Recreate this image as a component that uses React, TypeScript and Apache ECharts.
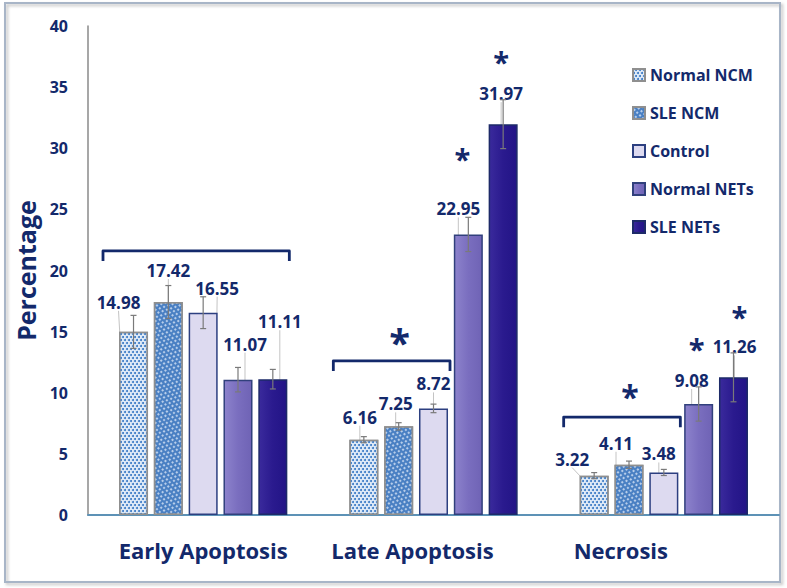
import React, { useEffect, useRef } from 'react';
import * as echarts from 'echarts';

const categories = ['Early Apoptosis', 'Late Apoptosis', 'Necrosis'];
const seriesNames = ['Normal NCM', 'SLE NCM', 'Control', 'Normal NETs', 'SLE NETs'];

const normalNcm = [14.98, 6.16, 3.22];
const sleNcm = [17.42, 7.25, 4.11];
const control = [16.55, 8.72, 3.48];
const normalNets = [11.07, 22.95, 9.08];
const sleNets = [11.11, 31.97, 11.26];

// standard error (half bar length)
const normalNcmErr = [1.35, 0.25, 0.25];
const sleNcmErr = [1.35, 0.3, 0.3];
const controlErr = [1.3, 0.35, 0.25];
const normalNetsErr = [1.0, 1.4, 1.4];
const sleNetsErr = [0.8, 2.0, 2.0];

const yTicks = { min: 0, max: 40, interval: 5 };

// brackets: [category, first series, last series, y value, star font size]
const brackets = [
  [0, 0, 4, 21.6, 0],
  [1, 0, 2, 12.6, 38],
  [2, 0, 2, 8.0, 32],
];
// significance stars over single bars: [category, series, y value]
const barStars = [
  [1, 3, 29.3],
  [1, 4, 37.3],
  [2, 3, 13.8],
  [2, 4, 16.4],
];
const starNudgeX = [-6, -2, -2, 6];

const NAVY = '#13296b';
const FONT = 'Open Sans';

// label nudges (dx, dy) per series / category
const labelNudge = [
  [[-15, -16], [-4, -9], [-22, -3]],
  [[0, -18], [-3, -9], [-13, -8]],
  [[14, -11], [0, -11], [-5, -5]],
  [[7, -22], [-10, -12], [-7, -10]],
  [[7, -44], [-2, -17], [1, -17]],
];

const BAR_FRAC = 0.126;
const GAP_FRAC = 0.2;

const App: React.FC = () => {
  const chartRef = useRef<HTMLDivElement | null>(null);

  useEffect(() => {
    document.body.style.margin = '0';
    if (!chartRef.current) return;
    const chart = echarts.init(chartRef.current, undefined, { renderer: 'svg' });

    const values = [normalNcm, sleNcm, control, normalNets, sleNets];
    const errs = [normalNcmErr, sleNcmErr, controlErr, normalNetsErr, sleNetsErr];

    const styles = [
      {
        color: '#dfeaf7',
        borderColor: '#8f8f8f',
        borderWidth: 1.5,
        decal: {
          symbol: 'circle',
          symbolSize: 1,
          color: '#3677c4',
          dashArrayX: [[2, 1.2], [0, 1.6, 2, 0]],
          dashArrayY: [2, 0.8],
          rotation: 0,
        },
      },
      {
        color: '#4a80c3',
        borderColor: '#8f8f8f',
        borderWidth: 1.5,
        decal: {
          symbol: 'rect',
          symbolSize: 0.9,
          color: 'rgba(225,235,250,0.8)',
          dashArrayX: [[2, 2], [0, 2, 2, 0]],
          dashArrayY: [1.5, 1.5],
          rotation: Math.PI / 4,
        },
      },
      { color: '#dddaf0', borderColor: '#2c3f80', borderWidth: 1.5 },
      {
        color: new echarts.graphic.LinearGradient(0, 0, 1, 0, [
          { offset: 0, color: '#8d83cc' },
          { offset: 0.5, color: '#7a6ebf' },
          { offset: 1, color: '#6f63b5' },
        ]),
        borderColor: '#31407c',
        borderWidth: 1.5,
      },
      {
        color: new echarts.graphic.LinearGradient(0, 0, 1, 0, [
          { offset: 0, color: '#3a2a9c' },
          { offset: 0.5, color: '#2a1a8e' },
          { offset: 1, color: '#221486' },
        ]),
        borderColor: '#1d2a68',
        borderWidth: 1.5,
      },
    ];

    const barSeries = seriesNames.map((name, si) => ({
      name,
      type: 'bar',
      data: values[si],
      barWidth: `${BAR_FRAC * 100}%`,
      barGap: `${GAP_FRAC * 100}%`,
      itemStyle: styles[si],
      label: {
        show: true,
        position: 'top',
        distance: 5,
        fontFamily: FONT,
        fontWeight: 'bold',
        fontSize: 17,
        color: NAVY,
        formatter: (p: any) => p.value.toFixed(2),
      },
      labelLine: { show: true, lineStyle: { color: '#c4c4c4', width: 1 } },
      labelLayout: (p: any) => {
        const n = labelNudge[si][p.dataIndex];
        return { dx: n[0], dy: n[1] };
      },
      z: 2,
    }));

    const barOffset = (api: any, si: number) => {
      const band = api.size([1, 0])[0];
      const bw = band * BAR_FRAC;
      return { bw, off: (si - 2) * bw * (1 + GAP_FRAC) };
    };

    const errSeries = seriesNames.map((name, si) => ({
      name: `${name} err`,
      type: 'custom',
      z: 5,
      silent: true,
      encode: { x: 0, y: 1 },
      data: values[si].map((v, ci) => [ci, v, errs[si][ci]]),
      renderItem: (_params: any, api: any) => {
        const c = api.value(0);
        const v = api.value(1);
        const e = api.value(2);
        const { off } = barOffset(api, si);
        const hi = api.coord([c, v + e]);
        const lo = api.coord([c, v - e]);
        const x = hi[0] + off;
        const st = { stroke: '#7a7a7a', lineWidth: 1.2 };
        return {
          type: 'group',
          children: [
            { type: 'line', shape: { x1: x, y1: hi[1], x2: x, y2: lo[1] }, style: st },
            { type: 'line', shape: { x1: x - 3, y1: hi[1], x2: x + 3, y2: hi[1] }, style: st },
            { type: 'line', shape: { x1: x - 3, y1: lo[1], x2: x + 3, y2: lo[1] }, style: st },
          ],
        };
      },
    }));

    const starStyle = (size: number) => ({
      text: '*',
      fontFamily: FONT,
      fontWeight: 'bold',
      fontSize: size,
      lineHeight: size * 0.45,
      fill: NAVY,
      align: 'center',
      verticalAlign: 'middle',
    });

    const bracketSeries = {
      name: 'brackets',
      type: 'custom',
      z: 6,
      silent: true,
      encode: { x: 0, y: 3 },
      data: brackets,
      renderItem: (_params: any, api: any) => {
        const c = api.value(0);
        const from = api.value(1);
        const to = api.value(2);
        const yv = api.value(3);
        const starSize = api.value(4);
        const a = barOffset(api, from);
        const b = barOffset(api, to);
        const p = api.coord([c, yv]);
        const xl = p[0] + a.off - a.bw / 2 - 16;
        const xr = p[0] + b.off + b.bw / 2 + 2;
        const children: any[] = [
          {
            type: 'polyline',
            shape: { points: [[xl, p[1] + 10], [xl, p[1]], [xr, p[1]], [xr, p[1] + 10]] },
            style: { stroke: NAVY, lineWidth: 2.8, fill: 'none', lineJoin: 'round' },
          },
        ];
        if (starSize > 0) {
          children.push({
            type: 'text',
            x: (xl + xr) / 2 + 8,
            y: p[1] - 30 + starSize * 0.28,
            style: starStyle(starSize),
          });
        }
        return { type: 'group', children };
      },
    };

    const starSeries = {
      name: 'stars',
      type: 'custom',
      z: 6,
      silent: true,
      encode: { x: 0, y: 2 },
      data: barStars,
      renderItem: (params: any, api: any) => {
        const c = api.value(0);
        const si = api.value(1);
        const yv = api.value(2);
        const { off } = barOffset(api, si);
        const p = api.coord([c, yv]);
        return {
          type: 'text',
          x: p[0] + off + starNudgeX[params.dataIndex],
          y: p[1] + 2,
          style: starStyle(29),
        };
      },
    };

    const option = {
      animation: false,
      backgroundColor: '#ffffff',
      graphic: [
        {
          type: 'rect',
          z: -10,
          shape: { x: 5, y: 3, width: 775, height: 579 },
          style: {
            fill: 'none',
            stroke: '#a8b5c7',
            lineWidth: 2,
            shadowBlur: 3,
            shadowOffsetX: 2,
            shadowOffsetY: 2,
            shadowColor: 'rgba(0,0,0,0.25)',
          },
        },
      ],
      legend: {
        data: seriesNames,
        orient: 'vertical',
        left: 627,
        top: 62,
        itemWidth: 12,
        itemHeight: 12,
        itemGap: 22,
        icon: 'rect',
        textStyle: { fontFamily: FONT, fontWeight: 'bold', fontSize: 16, color: NAVY },
      },
      grid: { left: 88, right: 8, top: 26, bottom: 73 },
      xAxis: {
        type: 'category',
        data: categories,
        axisLine: { show: true, lineStyle: { color: '#5d92b6', width: 2 } },
        axisTick: { show: false },
        axisLabel: {
          margin: 24,
          formatter: (v: string, i: number) => `{c${i}|${v}}`,
          rich: {
            c0: { fontFamily: FONT, fontWeight: 'bold', fontSize: 22, color: NAVY, padding: [0, 0, 0, 0] },
            c1: { fontFamily: FONT, fontWeight: 'bold', fontSize: 22, color: NAVY, padding: [0, 42, 0, 0] },
            c2: { fontFamily: FONT, fontWeight: 'bold', fontSize: 22, color: NAVY, padding: [0, 86, 0, 0] },
          },
        },
      },
      yAxis: {
        type: 'value',
        min: yTicks.min,
        max: yTicks.max,
        interval: yTicks.interval,
        name: 'Percentage',
        nameLocation: 'middle',
        nameGap: 42,
        nameTextStyle: { fontFamily: FONT, fontWeight: 'bold', fontSize: 25, color: NAVY },
        axisLine: { show: true, lineStyle: { color: '#8a8a8a', width: 1.5 } },
        axisTick: { show: false },
        splitLine: { show: false },
        axisLabel: { margin: 20, fontFamily: FONT, fontWeight: 'bold', fontSize: 16, color: NAVY },
      },
      series: [...barSeries, ...errSeries, bracketSeries, starSeries],
    };

    chart.setOption(option as any);
    return () => {
      chart.dispose();
    };
  }, []);

  return <div ref={chartRef} style={{ width: '787px', height: '588px' }} />;
};

export default App;
